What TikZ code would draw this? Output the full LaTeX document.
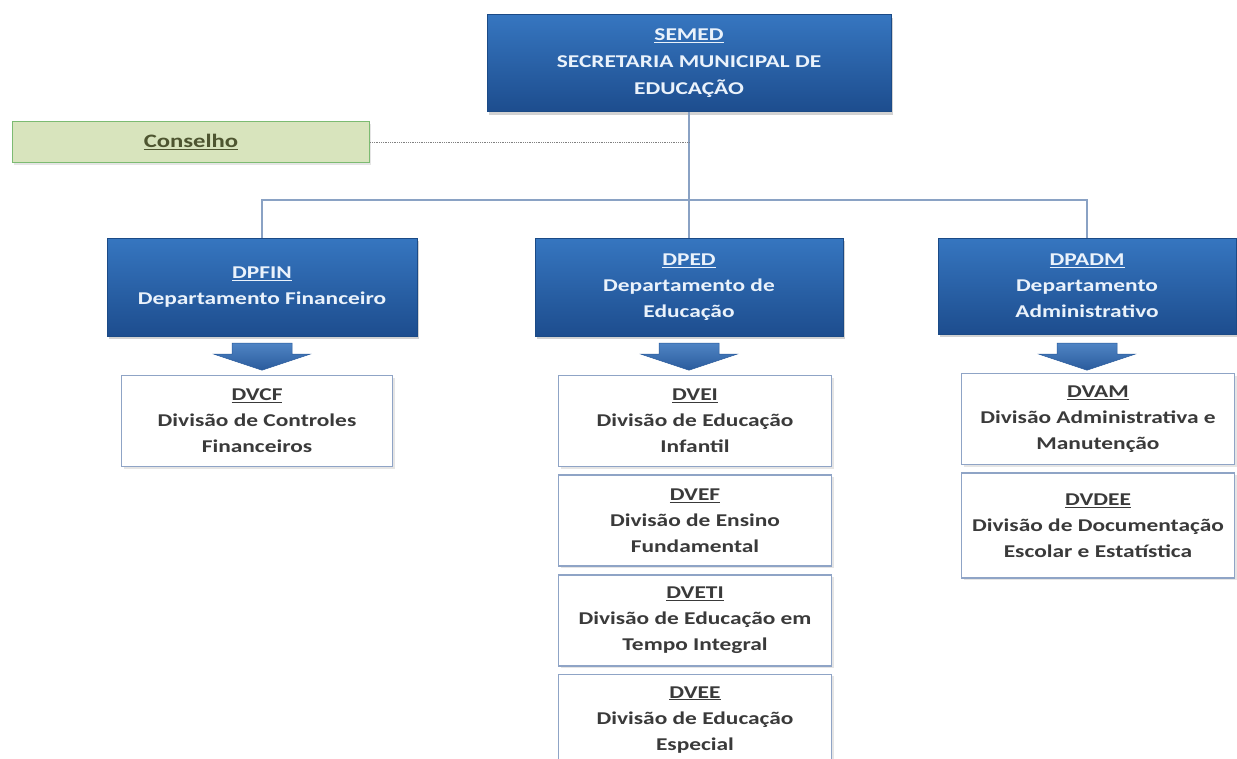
\documentclass[tikz,border=0pt]{standalone}
\usepackage{fontspec}
\setmainfont{Carlito}[FakeStretch=1.3]
\usetikzlibrary{positioning,shadows}

\definecolor{depttop}{HTML}{3676C0}
\definecolor{deptbottom}{HTML}{1D4D8E}
\definecolor{deptedge}{HTML}{1B4A86}
\definecolor{depttext}{HTML}{EAF2FB}
\definecolor{divedge}{HTML}{8FA4C6}
\definecolor{divtext}{HTML}{3A3A3A}
\definecolor{conselhofill}{HTML}{D8E4BD}
\definecolor{conselhoedge}{HTML}{7CBB72}
\definecolor{conselhotext}{HTML}{4E5530}
\definecolor{linecol}{HTML}{8AA2C4}
\definecolor{arrowtop}{HTML}{4F84C4}
\definecolor{arrowbottom}{HTML}{2A5B9C}

\begin{document}
\begin{tikzpicture}[x=1pt, y=-1pt, node distance=7pt,
    dept/.style={rectangle, draw=deptedge, top color=depttop, bottom color=deptbottom, text=depttext, font=\bfseries\fontsize{18}{26}\selectfont, align=center, minimum width=308pt, minimum height=98pt, inner sep=0pt, drop shadow={opacity=0.35, shadow xshift=2pt, shadow yshift=-3pt}},
    division/.style={rectangle, draw=divedge, line width=1.6pt, fill=white, text=divtext, font=\bfseries\fontsize{18}{26}\selectfont, align=center, minimum width=273pt, minimum height=91pt, inner sep=0pt, drop shadow={opacity=0.2, shadow xshift=2pt, shadow yshift=-2pt}},
    conselhobox/.style={rectangle, draw=conselhoedge, line width=1.5pt, fill=conselhofill, text=conselhotext, font=\bfseries\fontsize{19}{22}\selectfont, minimum width=357pt, minimum height=41pt, inner sep=0pt, drop shadow={opacity=0.2, shadow xshift=1pt, shadow yshift=-2pt}},
    line/.style={draw=linecol, line width=1.2pt},
    dotline/.style={draw=gray, line width=0.8pt, densely dotted},
    arrowfill/.style={top color=arrowtop, bottom color=arrowbottom, draw=arrowbottom, line width=0.5pt},
    downarrow/.pic={\path[arrowfill] (-30,0) -- (30,0) -- (30,11) -- (48,11) -- (0,27) -- (-48,11) -- (-30,11) -- cycle;}]

    \useasboundingbox[fill=white] (0,0) rectangle (1237,758);

    \node [dept, minimum width=404pt, minimum height=97pt, font=\bfseries\fontsize{18}{27}\selectfont] (semed) at (689,63) {\mbox{}\\[-15pt]\underline{SEMED}\\SECRETARIA MUNICIPAL DE\\EDUCAÇÃO};
    \node [conselhobox] (conselho) at (191,142) {\underline{Conselho}};

    \node [dept, minimum width=310pt] (dpfin) at (262,287) {\underline{DPFIN}\\Departamento Financeiro};
    \node [dept] (dped) at (689,287) {\underline{DPED}\\Departamento de\\Educação};
    \node [dept, minimum width=298pt, minimum height=96pt] (dpadm) at (1087,286) {\underline{DPADM}\\Departamento\\Administrativo};

    \node [division, minimum width=271pt] (dvcf) at (257,421) {\underline{DVCF}\\Divisão de Controles\\Financeiros};
    \node [division] (dvei) at (695,421) {\underline{DVEI}\\Divisão de Educação\\Infantil};
    \node [division, below=of dvei] (dvef) {\underline{DVEF}\\Divisão de Ensino\\Fundamental};
    \node [division, below=of dvef] (dveti) {\underline{DVETI}\\Divisão de Educação em\\Tempo Integral};
    \node [division, below=of dveti] (dvee) {\underline{DVEE}\\Divisão de Educação\\Especial};
    \node [division] (dvam) at (1098,419) {\underline{DVAM}\\Divisão Administrativa e\\Manutenção};
    \node [division, below=of dvam, minimum height=105pt] (dvdee) {\underline{DVDEE}\\Divisão de Documentação\\Escolar e Estatística};

    \coordinate (bus) at (689,200);
    \draw [line] (semed.south) -- (semed.south |- bus);
    \draw [line] (dpfin.north) -- (dpfin.north |- bus) -- (dpadm.north |- bus) -- (dpadm.north);
    \draw [line] (dped.north) -- (dped.north |- bus);
    \draw [dotline] (conselho.east) -- (conselho.east -| semed.south);

    \path (dpfin.south) ++(0,7) pic {downarrow};
    \path (dped.south) ++(0,7) pic {downarrow};
    \path (dpadm.south) ++(0,9) pic {downarrow};

\end{tikzpicture}
\end{document}
